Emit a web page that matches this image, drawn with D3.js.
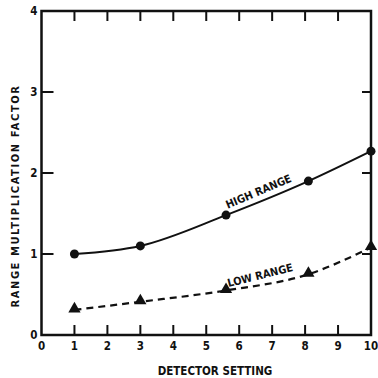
<!DOCTYPE html>
<html>
<head>
<meta charset="utf-8">
<script src="https://cdn.jsdelivr.net/npm/d3@7"></script>
<style>
  body { margin: 0; background: #fff; }
  text { font-family: "DejaVu Sans Condensed", "DejaVu Sans", sans-serif; font-weight: bold; fill: #111; }
</style>
</head>
<body>
<svg id="chart" width="378" height="378"></svg>
<script>
// readings taken off the scanned figure
var highX = [1, 3, 5.6, 8.1, 10];
var highY = [1.0, 1.1, 1.48, 1.9, 2.27];
var lowX = [1, 3, 5.6, 8.1, 10];
var lowY = [0.31, 0.41, 0.55, 0.75, 1.08];
var xTicks = [0, 1, 2, 3, 4, 5, 6, 7, 8, 9, 10];
var yTicks = [0, 1, 2, 3, 4];

// window.top is read-only, so plot edges get their own names
var pLeft = 41.5, pRight = 371, pTop = 11, pBottom = 335;

var svg = d3.select('#chart');
var ink = '#111';

var x = d3.scaleLinear().domain([0, 10]).range([pLeft, pRight]);
var y = d3.scaleLinear().domain([0, 4]).range([pBottom, pTop]);

// frame
svg.append('rect')
  .attr('x', pLeft).attr('y', pTop)
  .attr('width', pRight - pLeft).attr('height', pBottom - pTop)
  .style('fill', 'none')
  .style('stroke', ink)
  .style('stroke-width', 2.5);

// inside ticks, all four sides
var tickLen = 10;
var inner = xTicks.slice(1, -1);
svg.selectAll('.tb').data(inner).enter().append('line')
  .attr('x1', function(d){ return x(d) }).attr('x2', function(d){ return x(d) })
  .attr('y1', pBottom).attr('y2', pBottom - tickLen)
  .style('stroke', ink).style('stroke-width', 2);
svg.selectAll('.tt').data(inner).enter().append('line')
  .attr('x1', function(d){ return x(d) }).attr('x2', function(d){ return x(d) })
  .attr('y1', pTop).attr('y2', pTop + tickLen)
  .style('stroke', ink).style('stroke-width', 2);
var yInner = yTicks.slice(1, -1);
svg.selectAll('.tl').data(yInner).enter().append('line')
  .attr('x1', pLeft).attr('x2', pLeft + 12)
  .attr('y1', function(d){ return y(d) }).attr('y2', function(d){ return y(d) })
  .style('stroke', ink).style('stroke-width', 2);
svg.selectAll('.tr').data(yInner).enter().append('line')
  .attr('x1', pRight).attr('x2', pRight - 9)
  .attr('y1', function(d){ return y(d) }).attr('y2', function(d){ return y(d) })
  .style('stroke', ink).style('stroke-width', 2);

// tick labels
svg.selectAll('.xl').data(xTicks).enter().append('text')
  .attr('x', function(d){ return x(d) })
  .attr('y', pBottom + 15)
  .attr('text-anchor', 'middle')
  .style('font-size', '11.5px')
  .text(function(d){ return d });
svg.selectAll('.yl').data(yTicks).enter().append('text')
  .attr('x', pLeft - 4)
  .attr('y', function(d){ return y(d) + 4 })
  .attr('text-anchor', 'end')
  .style('font-size', '11.5px')
  .text(function(d){ return d });

// axis titles
svg.append('text')
  .attr('x', 215).attr('y', 375)
  .attr('text-anchor', 'middle')
  .style('font-size', '11.5px')
  .text('DETECTOR SETTING');
svg.append('text')
  .attr('transform', 'translate(19,196) rotate(-90)')
  .attr('text-anchor', 'middle')
  .style('font-size', '11px')
  .style('letter-spacing', '1.6px')
  .text('RANGE MULTIPLICATION FACTOR');

var line = d3.line()
  .x(function(d){ return x(d[0]) })
  .y(function(d){ return y(d[1]) })
  .curve(d3.curveMonotoneX);

var high = d3.zip(highX, highY);
var low = d3.zip(lowX, lowY);

svg.append('path').datum(high)
  .attr('d', line)
  .style('fill', 'none').style('stroke', ink).style('stroke-width', 2);
svg.append('path').datum(low)
  .attr('d', line)
  .style('fill', 'none').style('stroke', ink).style('stroke-width', 2.2)
  .style('stroke-dasharray', '7,5');

svg.selectAll('.hp').data(high).enter().append('circle')
  .attr('cx', function(d){ return x(d[0]) })
  .attr('cy', function(d){ return y(d[1]) })
  .attr('r', 4.5)
  .style('fill', ink);

var tri = d3.symbol().type(d3.symbolTriangle).size(65);
svg.selectAll('.lp').data(low).enter().append('path')
  .attr('d', tri)
  .attr('transform', function(d){ return 'translate(' + x(d[0]) + ',' + (y(d[1]) - 1) + ')' })
  .style('fill', ink);

// curve labels
svg.append('text')
  .attr('transform', 'translate(260,195) rotate(-23)')
  .attr('text-anchor', 'middle')
  .style('font-size', '11px')
  .text('HIGH RANGE');
svg.append('text')
  .attr('transform', 'translate(261,279) rotate(-14)')
  .attr('text-anchor', 'middle')
  .style('font-size', '11px')
  .text('LOW RANGE');
</script>
</body>
</html>
